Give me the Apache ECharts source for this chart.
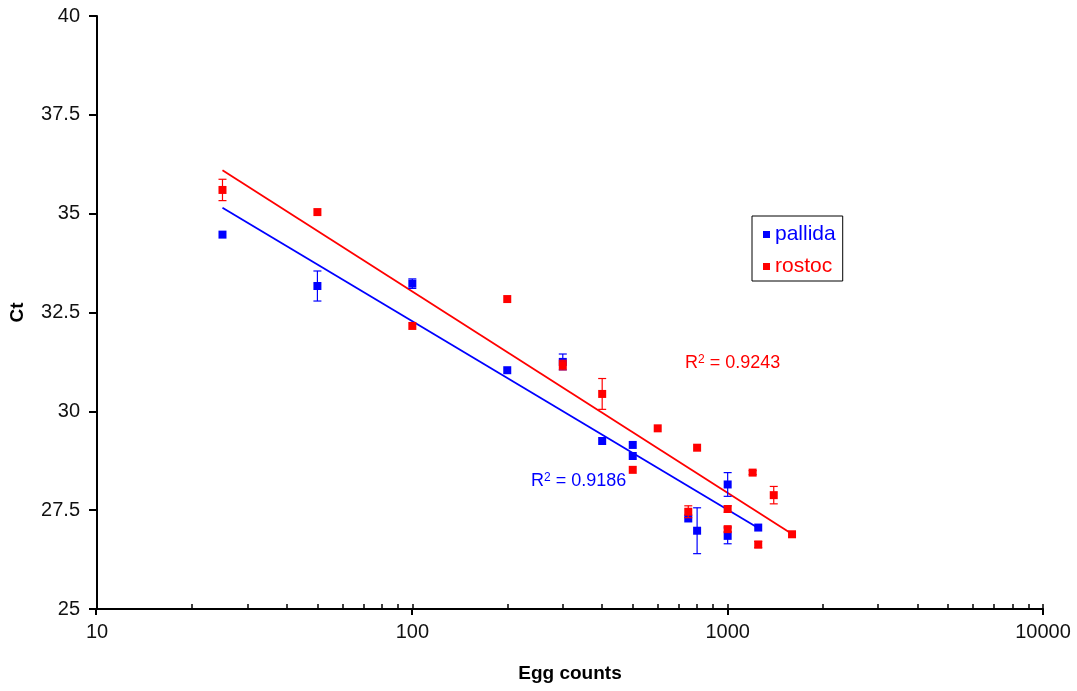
<!DOCTYPE html>
<html><head><meta charset="utf-8">
<script src="https://cdn.jsdelivr.net/npm/echarts@6/dist/echarts.min.js"></script>
<style>html,body{margin:0;padding:0;background:#fff}#c{width:1077px;height:691px}</style>
</head><body><div id="c"></div>
<script>
// ---- data ----
const pallidaX   = [25, 50, 100, 200, 300, 400, 500, 500, 750, 800, 1000, 1000, 1250];
const pallidaY   = [34.47, 33.17, 33.23, 31.04, 31.25, 29.25, 29.15, 28.87, 27.29, 26.98, 28.15, 26.85, 27.06];
const pallidaErr = [0, 0.38, 0.12, 0, 0.2, 0, 0, 0, 0, 0.58, 0.3, 0.2, 0];
const rostocX    = [25, 50, 100, 200, 300, 400, 500, 600, 750, 800, 1000, 1000, 1200, 1250, 1400, 1600];
const rostocY    = [35.6, 35.04, 32.16, 32.84, 31.17, 30.44, 28.52, 29.57, 27.46, 29.08, 27.53, 27.02, 28.45, 26.63, 27.88, 26.89];
const rostocErr  = [0.27, 0, 0, 0, 0.12, 0.39, 0, 0, 0.15, 0, 0.08, 0.06, 0.05, 0.08, 0.22, 0];
const trendPallidaX = [25, 1250], trendPallidaY = [35.15, 27.05];
const trendRostocX  = [25, 1600], trendRostocY  = [36.1, 26.9];
const r2Pallida = '0.9186', r2Rostoc = '0.9243';
const xMajorTicks = [10, 100, 1000, 10000];
const xMinorTicks = [20,30,40,50,60,70,80,90,200,300,400,500,600,700,800,900,2000,3000,4000,5000,6000,7000,8000,9000];
const yTicks = [25, 27.5, 30, 32.5, 35, 37.5, 40];
const seriesNames = ['pallida', 'rostoc'];

const BLUE = '#0000ff', RED = '#ff0000';
const FONT = 'Liberation Sans';
const zip = (a, b) => a.map((v, i) => [v, b[i]]);
const zip3 = (a, b, c) => a.map((v, i) => [v, b[i], c[i]]).filter(d => d[2] > 0);

function errBar(color) {
  return function (params, api) {
    const x = api.value(0), y = api.value(1), e = api.value(2);
    const t = api.coord([x, y + e]), b = api.coord([x, y - e]);
    const hw = 4;
    const st = { stroke: color, lineWidth: 1.2 };
    return { type: 'group', children: [
      { type: 'line', shape: { x1: t[0], y1: t[1], x2: b[0], y2: b[1] }, style: st },
      { type: 'line', shape: { x1: t[0] - hw, y1: t[1], x2: t[0] + hw, y2: t[1] }, style: st },
      { type: 'line', shape: { x1: b[0] - hw, y1: b[1], x2: b[0] + hw, y2: b[1] }, style: st }
    ]};
  };
}
function r2Text(val, color, left, top) {
  return { type: 'text', left: left, top: top, z: 100, style: {
    text: '{b|R}{s|2}{b| = ' + val + '}',
    rich: { b: { fontFamily: FONT, fontSize: 18, fill: color, color: color },
            s: { fontFamily: FONT, fontSize: 12, fill: color, color: color, verticalAlign: 'top' } } } };
}

const gridRect = { left: 96, right: 34, top: 16, bottom: 82 };
const chart = echarts.init(document.getElementById('c'), null, { renderer: 'canvas' });
chart.setOption({
  animation: false,
  backgroundColor: '#fff',
  textStyle: { fontFamily: FONT },
  grid: [Object.assign({}, gridRect), Object.assign({}, gridRect)],
  legend: {
    orient: 'vertical', left: 752, top: 216,
    data: [
      { name: seriesNames[0], textStyle: { color: BLUE } },
      { name: seriesNames[1], textStyle: { color: RED } }
    ],
    icon: 'rect', itemWidth: 7, itemHeight: 7, itemGap: 11, itemTextGap: 10,
    padding: [8, 7, 4, 11], borderColor: '#000', borderWidth: 1, backgroundColor: '#fff',
    textStyle: { fontFamily: FONT, fontSize: 21 }
  },
  xAxis: [{
    type: 'log', logBase: 10, min: 10, max: 10000, gridIndex: 0,
    name: 'Egg counts', nameLocation: 'middle', nameGap: 55,
    nameTextStyle: { fontFamily: FONT, fontSize: 19, fontWeight: 'bold', color: '#000' },
    axisLine: { lineStyle: { color: '#000', width: 2 } },
    axisTick: { inside: true, length: 5, lineStyle: { color: '#000', width: 1.5 },
                customValues: xMajorTicks.concat(xMinorTicks) },
    axisLabel: { fontFamily: FONT, fontSize: 20, color: '#111', margin: 13, customValues: xMajorTicks,
                 formatter: v => String(v) },
    splitLine: { show: false }
  }, {
    type: 'log', logBase: 10, min: 10, max: 10000, gridIndex: 1,
    axisLine: { show: false },
    axisTick: { show: true, length: 6, lineStyle: { color: '#000', width: 2 } },
    axisLabel: { show: false }, splitLine: { show: false }
  }],
  yAxis: [{
    type: 'value', min: 25, max: 40, interval: 2.5, gridIndex: 0,
    name: 'Ct', nameLocation: 'middle', nameGap: 70, nameRotate: 90,
    nameTextStyle: { fontFamily: FONT, fontSize: 19, fontWeight: 'bold', color: '#000' },
    axisLine: { show: true, lineStyle: { color: '#000', width: 2 } },
    axisTick: { show: true, length: 8, lineStyle: { color: '#000', width: 2 } },
    axisLabel: { fontFamily: FONT, fontSize: 20, color: '#111', margin: 17 },
    splitLine: { show: false }
  }, {
    type: 'value', min: 25, max: 40, gridIndex: 1, show: false
  }],
  graphic: [
    r2Text(r2Rostoc, RED, 685, 354),
    r2Text(r2Pallida, BLUE, 531, 472)
  ],
  series: [
    { name: 'pallidaTrend', type: 'line', data: zip(trendPallidaX, trendPallidaY), showSymbol: false,
      lineStyle: { color: BLUE, width: 1.8 }, itemStyle: { color: BLUE }, silent: true, z: 2 },
    { name: 'rostocTrend', type: 'line', data: zip(trendRostocX, trendRostocY), showSymbol: false,
      lineStyle: { color: RED, width: 1.8 }, itemStyle: { color: RED }, silent: true, z: 2 },
    { name: seriesNames[0], type: 'scatter', data: zip(pallidaX, pallidaY), symbol: 'rect', symbolSize: 8,
      itemStyle: { color: BLUE, opacity: 1 }, z: 3 },
    { name: 'pallidaErr', type: 'custom', data: zip3(pallidaX, pallidaY, pallidaErr), renderItem: errBar(BLUE), z: 4 },
    { name: seriesNames[1], type: 'scatter', data: zip(rostocX, rostocY), symbol: 'rect', symbolSize: 8,
      itemStyle: { color: RED, opacity: 1 }, z: 5 },
    { name: 'rostocErr', type: 'custom', data: zip3(rostocX, rostocY, rostocErr), renderItem: errBar(RED), z: 6 }
  ]
});
</script></body></html>
